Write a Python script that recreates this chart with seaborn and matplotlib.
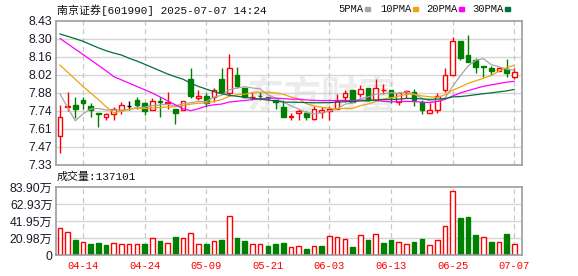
import numpy as np
import pandas as pd
import matplotlib
matplotlib.use("Agg")
import matplotlib.pyplot as plt
import seaborn as sns

# ---------------- data ----------------
dates = ["04-09", "04-10", "04-11", "04-14", "04-15", "04-16", "04-17", "04-18", "04-21", "04-22",
         "04-23", "04-24", "04-25", "04-28", "04-29", "04-30", "05-06", "05-07", "05-08", "05-09",
         "05-12", "05-13", "05-14", "05-15", "05-16", "05-19", "05-20", "05-21", "05-22", "05-23",
         "05-26", "05-27", "05-28", "05-29", "05-30", "06-03", "06-04", "06-05", "06-06", "06-09",
         "06-10", "06-11", "06-12", "06-13", "06-16", "06-17", "06-18", "06-19", "06-20", "06-23",
         "06-24", "06-25", "06-26", "06-27", "06-30", "07-01", "07-02", "07-03", "07-04", "07-07"]

open_ = [7.55, 7.77, 7.79, 7.83, 7.78, 7.73, 7.70, 7.72, 7.75, 7.78,
         7.83, 7.80, 7.75, 7.82, 7.80, 7.76, 7.75, 7.99, 7.84, 7.86,
         7.85, 7.99, 7.88, 8.02, 7.92, 7.850, 7.860, 7.85, 7.83, 7.77,
         7.700, 7.73, 7.73, 7.68, 7.735, 7.74, 7.76, 7.85, 7.90, 7.87,
         7.92, 7.83, 7.900, 7.90, 7.81, 7.890, 7.89, 7.81, 7.73, 7.75,
         7.90, 8.02, 8.28, 8.17, 8.13, 8.085, 8.07, 8.05, 8.06, 8.00]
high = [7.79, 7.89, 7.85, 7.85, 7.80, 7.73, 7.73, 7.77, 7.81, 7.82,
        7.85, 7.81, 7.84, 7.85, 7.89, 7.76, 7.82, 8.07, 7.90, 7.88,
        7.92, 8.07, 8.18, 8.08, 7.92, 7.89, 7.89, 7.85, 7.83, 7.83,
        7.73, 7.76, 7.74, 7.78, 7.77, 7.78, 7.87, 7.90, 7.90, 7.94,
        7.92, 7.99, 7.95, 7.90, 7.89, 7.90, 7.91, 7.83, 7.80, 7.88,
        8.07, 8.31, 8.28, 8.32, 8.15, 8.085, 8.09, 8.08, 8.14, 8.07]
low = [7.42, 7.74, 7.69, 7.76, 7.70, 7.62, 7.67, 7.67, 7.72, 7.75,
       7.76, 7.71, 7.75, 7.70, 7.76, 7.64, 7.75, 7.84, 7.83, 7.77,
       7.81, 7.88, 7.86, 7.92, 7.84, 7.83, 7.83, 7.83, 7.76, 7.70,
       7.67, 7.67, 7.67, 7.67, 7.69, 7.67, 7.76, 7.81, 7.81, 7.85,
       7.82, 7.83, 7.87, 7.80, 7.79, 7.84, 7.78, 7.72, 7.73, 7.73,
       7.89, 8.02, 8.13, 8.12, 8.03, 8.00, 8.02, 8.05, 8.00, 7.99]
close = [7.70, 7.78, 7.76, 7.80, 7.75, 7.72, 7.72, 7.76, 7.79, 7.78,
         7.79, 7.74, 7.82, 7.81, 7.81, 7.73, 7.82, 7.86, 7.86, 7.80,
         7.90, 7.89, 8.07, 7.93, 7.85, 7.853, 7.857, 7.84, 7.81, 7.70,
         7.703, 7.74, 7.70, 7.76, 7.75, 7.76, 7.82, 7.88, 7.81, 7.91,
         7.83, 7.92, 7.903, 7.85, 7.88, 7.893, 7.83, 7.75, 7.75, 7.86,
         8.02, 8.28, 8.15, 8.12, 8.08, 8.082, 8.05, 8.07, 8.03, 8.04]

# volume in 万 (10k shares)
volume = [33.1, 28.1, 18.6, 15.7, 13.6, 14.9, 12.4, 14.5, 13.6, 13.6,
          13.6, 13.6, 20.7, 17.4, 14.5, 22.3, 20.7, 26.9, 13.6, 13.6,
          17.4, 18.6, 48.4, 21.1, 17.4, 13.6, 13.6, 11.2, 13.6, 15.3,
          9.5, 11.2, 7.4, 11.2, 11.2, 23.6, 21.9, 19.5, 9.9, 24.8,
          18.6, 26.0, 15.3, 18.6, 15.7, 13.6, 16.1, 19.8, 12.4, 18.6,
          36.0, 79.0, 45.9, 47.5, 25.2, 22.3, 16.5, 16.1, 26.4, 13.7101]
# 1 = up (red hollow bar), 0 = down (green bar)
vol_up = [1, 1, 0, 1, 0, 0, 0, 1, 1, 1,
          1, 0, 1, 0, 1, 0, 1, 1, 1, 0,
          1, 0, 1, 0, 0, 1, 1, 0, 0, 0,
          1, 1, 0, 1, 0, 1, 1, 1, 0, 1,
          0, 1, 0, 0, 1, 1, 0, 0, 1, 1,
          1, 1, 0, 0, 0, 1, 0, 1, 0, 1]

# moving-average values at the start of the window (need earlier history)
ma5_head = [7.875, 7.77, 7.668, 7.72]
ma10_head = [8.094, 8.04, 7.985, 7.93, 7.88, 7.83, 7.775, 7.73, 7.74]
ma20_head = [8.298, 8.256, 8.215, 8.175, 8.133, 8.092, 8.05, 8.005, 7.98, 7.955,
             7.93, 7.905, 7.88, 7.85, 7.82, 7.79, 7.76, 7.745, 7.76]
ma30_head = [8.331, 8.313, 8.295, 8.275, 8.25, 8.225, 8.203, 8.185, 8.17, 8.145,
             8.124, 8.10, 8.075, 8.05, 8.025, 8.004, 7.985, 7.955, 7.93, 7.91,
             7.89, 7.875, 7.862, 7.855, 7.848, 7.84, 7.833, 7.826, 7.82]

price_tick_labels = ["7.33", "7.47", "7.61", "7.74", "7.88", "8.02", "8.16", "8.30", "8.43"]
vol_tick_labels = ["0", "20.98万", "41.95万", "62.93万", "83.90万"]
price_range = (7.33, 8.43)
vol_max = 83.90
tick_dates = ["04-14", "04-24", "05-09", "05-21", "06-03", "06-13", "06-25", "07-07"]
title = "南京证券[601990] 2025-07-07 14:24"
vol_title = "成交量:137101"
ma_names = ["5PMA", "10PMA", "20PMA", "30PMA"]
ma_colors = ["#a6a6a6", "#f0a30a", "#ff00ff", "#00703c"]

RED = "#ff0000"
GREEN = "#008000"
GRID = "#d6d6d6"
FRAME = "#9c9c9c"

# ---------------- figure ----------------
sns.set_theme(style="white")
plt.rcParams['font.family'] = ['Liberation Sans', 'Noto Sans CJK SC']

W, H = 578, 276
fig = plt.figure(figsize=(W / 100, H / 100), dpi=100)
fig.patch.set_facecolor("white")
L, R = 56, 522
ax = fig.add_axes([L / W, 1 - 165 / H, (R - L) / W, (165 - 21) / H])
axv = fig.add_axes([L / W, 1 - 255 / H, (R - L) / W, (255 - 187) / H])

n = len(dates)
x = np.arange(n)
o = np.array(open_)
c = np.array(close)
hi = np.array(high)
lo = np.array(low)

# moving averages
cs = pd.Series(close)
def moving_avg(win, head):
    m = cs.rolling(win).mean().to_numpy()
    m[:len(head)] = head
    return m

ma_df = pd.concat([
    pd.DataFrame({"x": x, "value": moving_avg(w, h), "ma": name})
    for w, h, name in zip([5, 10, 20, 30], [ma5_head, ma10_head, ma20_head, ma30_head], ma_names)
], ignore_index=True)

for a in (ax, axv):
    a.set_xlim(-0.5, n)
    a.set_facecolor("white")
    for s in a.spines.values():
        s.set_color(FRAME)
        s.set_linewidth(1.2)
    a.tick_params(length=0)
    a.grid(False)

# watermark
ax.text(0.57, 0.47, "东方财富", transform=ax.transAxes, ha="center", va="center",
        fontsize=27, fontweight="bold", color="#ececec", zorder=0.5,
        family=["Noto Sans CJK SC"])

# grid lines
ymin, ymax = price_range
pticks = np.linspace(ymin, ymax, len(price_tick_labels))
ax.set_ylim(ymin, ymax)
ax.set_yticks(pticks)
ax.set_yticklabels(price_tick_labels)
for t in pticks[1:-1]:
    ax.axhline(t, color=GRID, lw=1.0, zorder=1)
tick_pos = [dates.index(d) for d in tick_dates]
for a in (ax, axv):
    a.set_xticks(tick_pos)
    for p in tick_pos:
        a.axvline(p, color="#c8c8c8", lw=0.9, ls=(0, (4, 3)), zorder=1)

vticks = np.linspace(0, vol_max, len(vol_tick_labels))
axv.set_ylim(0, vol_max)
axv.set_yticks(vticks)
axv.set_yticklabels(vol_tick_labels)
for t in vticks[1:-1]:
    axv.axhline(t, color=GRID, lw=1.0, zorder=1)

# candles
cols = np.where(c > o, RED, np.where(c < o, GREEN, "#000000"))
ax.vlines(x, lo, hi, colors=cols, lw=1.0, zorder=2)
bw = 0.6
body_bottom = np.minimum(o, c)
body_h = np.abs(c - o)
face = np.where(c > o, "white", cols)
ax.bar(x, body_h, bottom=body_bottom, width=bw, color=face, edgecolor=cols,
       linewidth=1.0, zorder=2.5)

# moving-average lines
sns.lineplot(data=ma_df, x="x", y="value", hue="ma", palette=dict(zip(ma_names, ma_colors)),
             hue_order=ma_names, ax=ax, legend=False, linewidth=0.9, zorder=3)
ax.set_xlabel("")
ax.set_ylabel("")
ax.set_xticklabels([])

# volume bars
vcols = np.where(np.array(vol_up) == 1, RED, GREEN)
vface = np.where(np.array(vol_up) == 1, "white", GREEN)
axv.bar(x, volume, width=bw, color=vface, edgecolor=vcols, linewidth=1.0, zorder=2)
axv.set_xticklabels(tick_dates)
axv.set_xlabel("")
axv.set_ylabel("")

for lab in ax.get_yticklabels() + axv.get_yticklabels():
    lab.set_fontsize(8.7)
    lab.set_color("#1a1a2a")
ax.tick_params(axis="y", pad=2.5)
axv.tick_params(axis="y", pad=2.5)
for lab in axv.get_xticklabels():
    lab.set_fontsize(7.6)
    lab.set_color(RED)
    lab.set_family(["Liberation Mono"])
axv.tick_params(axis="x", pad=4)

# header texts
fig.text(57 / W, 1 - 10 / H, title, ha="left", va="center", fontsize=7.9,
         family=["Liberation Mono", "Noto Sans CJK SC"], color="#111111")
fig.text(57 / W, 1 - 177 / H, vol_title, ha="left", va="center", fontsize=7.9,
         family=["Liberation Mono", "Noto Sans CJK SC"], color="#111111")

# legend: text followed by small coloured square
leg_x = [338, 380, 426, 472]
for name, col, lx in zip(ma_names, ma_colors, leg_x):
    t = fig.text(lx / W, 1 - 9 / H, name, ha="left", va="center", fontsize=7.6,
                 family=["Liberation Mono"], color="#111111")
    fig.canvas.draw()
    bb = t.get_window_extent()
    sx = bb.x1 + 2
    fig.patches.append(plt.Rectangle((sx / W, 1 - 10.5 / H), 5 / W, 3.5 / H,
                                     transform=fig.transFigure, color=col, figure=fig))

fig.savefig("out.png", dpi=100, facecolor="white")
